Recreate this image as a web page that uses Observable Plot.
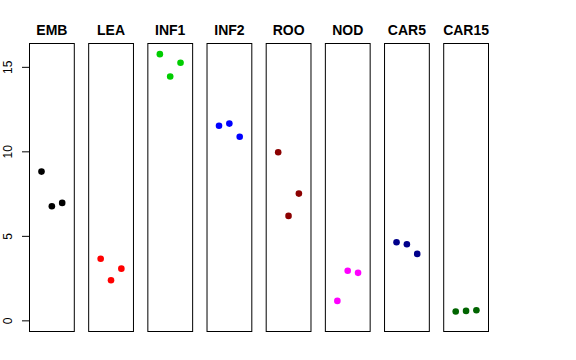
<!DOCTYPE html>
<html>
<head>
<meta charset="utf-8">
<script src="https://cdn.jsdelivr.net/npm/d3@7"></script>
<script src="https://cdn.jsdelivr.net/npm/@observablehq/plot@0.6"></script>
<style>
  html, body { margin: 0; padding: 0; background: #fff; }
  svg { display: block; }
</style>
</head>
<body>
<div id="chart"></div>
<script>
// Data
const categories = ["EMB", "LEA", "INF1", "INF2", "ROO", "NOD", "CAR5", "CAR15"];
const colors = ["#000000", "#FF0000", "#00CD00", "#0000FF", "#8B0000", "#FF00FF", "#00008B", "#006400"];
const replicate = [1, 2, 3];
const EMB = [8.83, 6.78, 6.98];
const LEA = [3.67, 2.40, 3.09];
const INF1 = [15.78, 14.46, 15.27];
const INF2 = [11.54, 11.67, 10.89];
const ROO = [9.98, 6.21, 7.53];
const NOD = [1.18, 2.96, 2.84];
const CAR5 = [4.65, 4.53, 3.96];
const CAR15 = [0.55, 0.59, 0.63];
const yTicks = [0, 5, 10, 15];

const series = [EMB, LEA, INF1, INF2, ROO, NOD, CAR5, CAR15];
const rows = [];
categories.forEach((c, i) => {
  series[i].forEach((v, j) => rows.push({group: c, rep: replicate[j], value: v}));
});

const plot = Plot.plot({
  width: 576,
  height: 360,
  marginLeft: 29,
  marginRight: 88,
  marginTop: 43,
  marginBottom: 29,
  style: {fontFamily: "'Liberation Sans', Arial, sans-serif", background: "#fff", color: "#000"},
  fx: {domain: categories, paddingInner: 0.243, paddingOuter: 0, round: false, axis: null, label: null},
  x: {domain: [-0.16, 4.17], axis: null},
  y: {domain: [-0.63, 16.41], axis: null},
  color: {domain: categories, range: colors},
  marks: [
    Plot.frame({stroke: "#000", strokeWidth: 1}),
    Plot.axisY({ticks: yTicks, tickSize: 7, tickFormat: () => "", label: null, stroke: "#000"}),
    Plot.text(yTicks, {
      fx: () => "EMB", y: d => d, text: d => String(d),
      frameAnchor: "left", dx: -21, rotate: -90,
      textAnchor: "middle", lineAnchor: "middle", fontSize: 12, fill: "#000"
    }),
    Plot.text(categories, {
      fx: d => d, text: d => d, frameAnchor: "top", dy: -9,
      lineAnchor: "bottom", textAnchor: "middle",
      fontWeight: "bold", fontSize: 14, fill: "#000"
    }),
    Plot.dot(rows, {fx: "group", x: "rep", y: "value", fill: d => d.group, r: 3.3, stroke: null})
  ]
});
document.getElementById("chart").appendChild(plot);
</script>
</body>
</html>
